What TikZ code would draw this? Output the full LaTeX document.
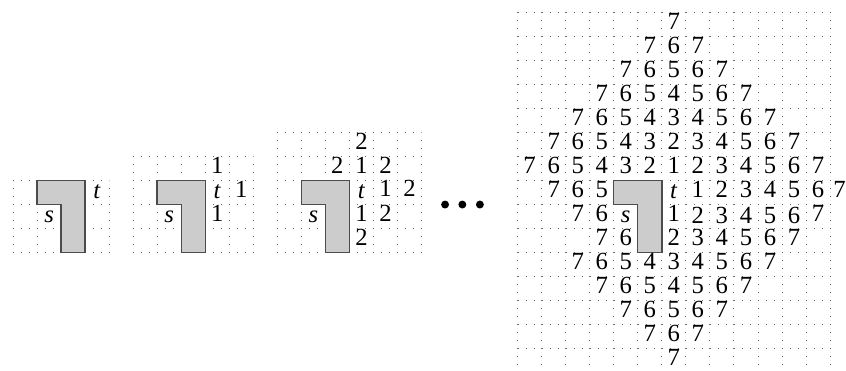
\documentclass[tikz,border=0pt]{standalone}
\usepackage{fontspec}
\setmainfont{Liberation Serif}
\begin{document}
\begin{tikzpicture}[x=0.6cm,y=0.6cm,
  gridline/.style={draw=black!60,line width=0.6pt,dash pattern=on 0.6pt off 5.09pt},
  obstacle/.style={fill=gray!40,draw=black!70,line width=1pt,line join=miter},
  lab/.style={inner sep=0pt,anchor=base,font=\fontsize{17.5}{20}\selectfont},
  dot/.style={fill=black}]
\useasboundingbox (-0.541,0.512) rectangle (34.665,-14.886);
% digit rows: #2 id, #3 row, #4 first column, #5 values
\newcommand\digrow[5][]{%
  \foreach \v [count=\k from #4] in {#5}{%
    \node[lab,#1] (#2-#3-\k) at ({\k+0.5},{-#3-0.71}) {\v};}}
\newcommand\letter[4]{\node[lab] (#1) at ({#3+0.5},{-#2-0.74}) {\textit{#4}};}
% grids
\draw[gridline] (0,-7) grid[step=1] (4,-10);
\draw[gridline] (5,-6) grid[step=1] (10,-10);
\draw[gridline] (11,-5) grid[step=1] (17,-10);
\draw[gridline] (21,0) grid[step=1] (34,-15);
% obstacles
\draw[obstacle] (1,-7) -- (3,-7) -- (3,-10) -- (2,-10) -- (2,-8) -- (1,-8) -- cycle;
\draw[obstacle] (6,-7) -- (8,-7) -- (8,-10) -- (7,-10) -- (7,-8) -- (6,-8) -- cycle;
\draw[obstacle] (12,-7) -- (14,-7) -- (14,-10) -- (13,-10) -- (13,-8) -- (12,-8) -- cycle;
\draw[obstacle] (25,-7) -- (27,-7) -- (27,-10) -- (26,-10) -- (26,-8) -- (25,-8) -- cycle;
% grid 1
\letter{at}{7}{3}{t}
\letter{as}{8}{1}{s}
% grid 2
\letter{bt}{7}{8}{t}
\letter{bs}{8}{6}{s}
\digrow{b}{6}{8}{1}
\digrow{b}{7}{9}{1}
\digrow{b}{8}{8}{1}
% grid 3
\letter{ct}{7}{14}{t}
\letter{cs}{8}{12}{s}
\digrow{c}{5}{14}{2}
\digrow{c}{6}{13}{2,1,2}
\digrow[yshift=1pt]{c}{7}{15}{1,2}
\digrow{c}{8}{14}{1,2}
\digrow{c}{9}{14}{2}
% ellipsis
\fill[dot] (17.98,-8) circle (0.165);
\fill[dot] (18.70,-8) circle (0.165);
\fill[dot] (19.43,-8) circle (0.165);
% big grid
\letter{dt}{7}{27}{t}
\letter{ds}{8}{25}{s}
\digrow{d}{0}{27}{7}
\digrow{d}{1}{26}{7,6,7}
\digrow{d}{2}{25}{7,6,5,6,7}
\digrow{d}{3}{24}{7,6,5,4,5,6,7}
\digrow{d}{4}{23}{7,6,5,4,3,4,5,6,7}
\digrow{d}{5}{22}{7,6,5,4,3,2,3,4,5,6,7}
\digrow{d}{6}{21}{7,6,5,4,3,2,1,2,3,4,5,6,7}
\digrow{d}{7}{22}{7,6,5}
\digrow{d}{7}{28}{1,2,3,4,5,6}
\node[lab] (d-7-34) at (34.4,-7.71) {7};
\digrow{d}{8}{23}{7,6}
\digrow{d}{8}{27}{1}
\digrow[yshift=-1.2pt]{d}{8}{28}{2,3,4,5,6}
\digrow{d}{8}{33}{7}
\digrow{d}{9}{24}{7,6}
\digrow{d}{9}{27}{2,3,4,5,6,7}
\digrow{d}{10}{23}{7,6,5,4,3,4,5,6,7}
\digrow{d}{11}{24}{7,6,5,4,5,6,7}
\digrow{d}{12}{25}{7,6,5,6,7}
\digrow{d}{13}{26}{7,6,7}
\digrow{d}{14}{27}{7}
\end{tikzpicture}
\end{document}
